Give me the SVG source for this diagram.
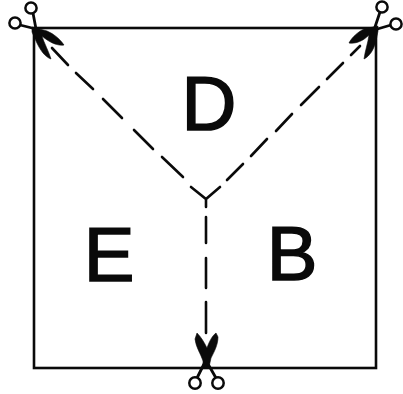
<svg xmlns="http://www.w3.org/2000/svg" width="403" height="394" viewBox="0 0 403 394">
<style>
.sq{fill:none;stroke:#0a0a0a;stroke-width:2.6}
.d{fill:none;stroke:#0a0a0a;stroke-width:2.6;stroke-linecap:round}
.ring{fill:none;stroke:#0a0a0a;stroke-width:2.5}
.bl{fill:#0a0a0a;stroke:#0a0a0a;stroke-width:.6;stroke-linejoin:round}
.h{fill:none;stroke:#0a0a0a;stroke-width:2.8}
text{font-family:"Liberation Sans",Arial,sans-serif;font-size:76px;fill:#0a0a0a;stroke:#0a0a0a;stroke-width:1.6;text-anchor:middle}
</style>
<g id="square"><rect class="sq" x="34" y="28" width="342" height="340"/></g>
<g id="connectors">
<path class="d" d="M191 187L206 199L220 187M206 199V207M183 177L162 157M153 149L134 130M122 118L103 99M93 89L76 73M68 65L52 48M227 180L243 164M251 156L267 139M276 131L292 114M301 105L319 87M327 79L343 63M351 55L360 46M206 217V243M206 258V288M206 302V333"/>
</g>
<g id="scissors-nw">
<circle class="ring" cx="31" cy="8" r="5.6"/><circle class="ring" cx="15" cy="23" r="5.6"/>
<path class="h" d="M33 13L36 29M20 25L36 29"/>
<path class="bl" d="M32 27L47 31C54 34 60 39 64 45C58 46 50 43 42 36C44 43 49 52 51 59C45 57 40 50 36 41L32 32Z"/>
</g>
<g id="scissors-ne">
<circle class="ring" cx="382" cy="7" r="5.6"/><circle class="ring" cx="396" cy="24" r="5.6"/>
<path class="h" d="M380 12L374 30M391 25L374 30"/>
<path class="bl" d="M378 26L364 29C358 32 352 37 349 43C356 44 363 41 369 35C368 43 365 51 364 59C370 56 374 49 376 41L378 31Z"/>
</g>
<g id="scissors-s">
<circle class="ring" cx="195" cy="383" r="5.7"/><circle class="ring" cx="218" cy="383" r="5.7"/>
<path class="h" d="M197 378L204 364M216 378L208 364"/>
<path class="bl" d="M203 367L209 367L211 358C214 352 218 345 218 337L216 333C212 336 209 342 207 348C204 342 201 337 197 333L195 339C196 348 201 354 203 361Z"/>
</g>
<g id="label-d"><text x="209" y="130">D</text></g>
<g id="label-e"><text x="109" y="280.5">E</text></g>
<g id="label-b"><text x="292" y="280">B</text></g>
</svg>
